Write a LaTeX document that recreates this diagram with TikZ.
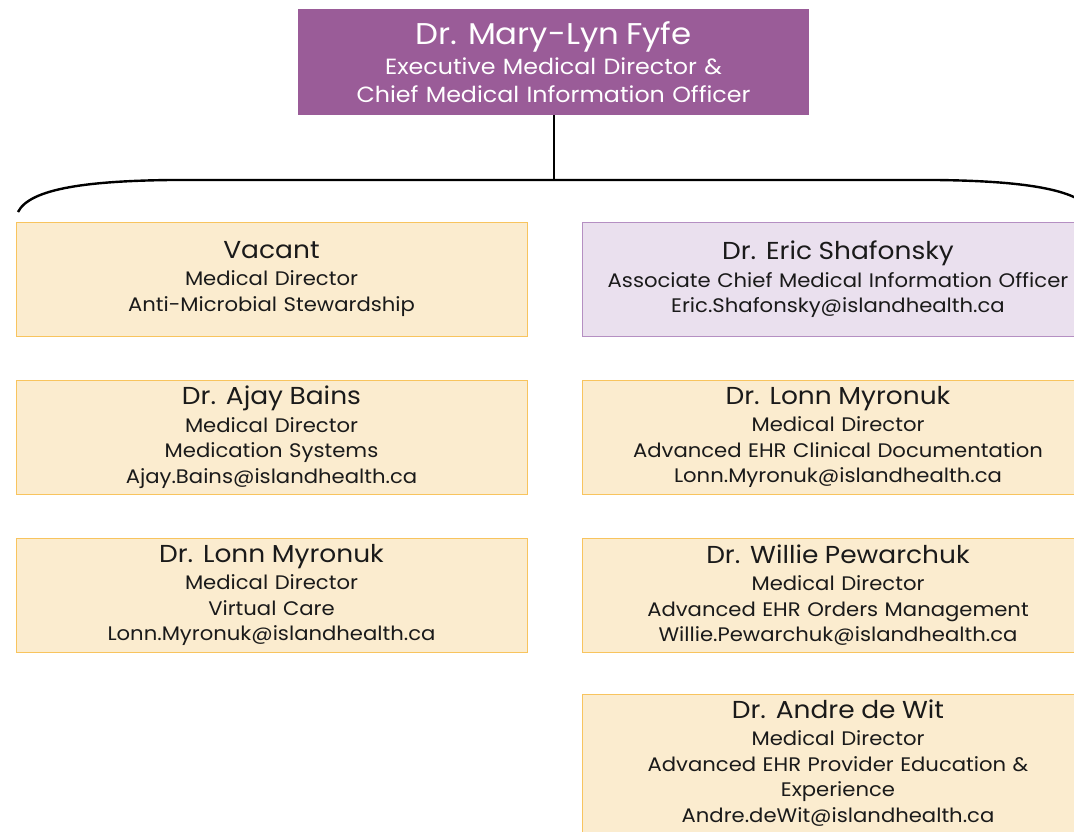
\documentclass[tikz,border=0pt]{standalone}
\usepackage{fontspec}
\setmainfont{Poppins}[FakeStretch=1.08]
\definecolor{topfill}{HTML}{9A5C98}
\definecolor{orfill}{HTML}{FBECCF}
\definecolor{ordraw}{HTML}{F8C45E}
\definecolor{lvfill}{HTML}{EAE0EE}
\definecolor{lvdraw}{HTML}{B58FC2}
\definecolor{txt}{HTML}{1A1A1A}
\newcommand{\bt}[1]{{\fontsize{24.5}{28}\selectfont #1}\\[2pt]}
\tikzset{
  orgbox/.style={draw=ordraw, fill=orfill, line width=0.9pt, minimum width=511pt, minimum height=114pt,
    text width=505pt, align=center, inner sep=0pt, text=txt, font=\fontsize{19.6}{25.5}\selectfont},
  lvbox/.style={orgbox, draw=lvdraw, fill=lvfill},
}
\begin{document}
\begin{tikzpicture}[x=1pt,y=-1pt]
\useasboundingbox (0,0) rectangle (1074,831);
\clip (0,0) rectangle (1074,831);
\node[fill=topfill, minimum width=511pt, minimum height=106pt, text width=505pt, align=center, inner sep=0pt, text=white,
  font=\fontsize{22}{28}\selectfont] (top) at (553.5,62)
  {{\fontsize{30}{34}\selectfont Dr. Mary-Lyn Fyfe}\\[2pt] Executive Medical Director \&\\ Chief Medical Information Officer};
\coordinate (hub) at (553.5,180);
\coordinate (bl) at (18,212);
\coordinate (br) at (1092,212);
\draw[line width=2pt] (top.south) -- (hub);
\draw[line width=2.4pt] (bl) .. controls (30,188) and (90,181) .. (170,180) -- (hub) -- (937,180) .. controls (1017,181) and (1080,188) .. (br);
\node[orgbox] (l1) at (271.5,279) {\bt{Vacant} Medical Director\\ Anti-Microbial Stewardship};
\node[orgbox] (l2) at (271.5,437) {\bt{Dr. Ajay Bains} Medical Director\\ Medication Systems\\ Ajay.Bains@islandhealth.ca};
\node[orgbox] (l3) at (271.5,595) {\bt{Dr. Lonn Myronuk} Medical Director\\ Virtual Care\\ Lonn.Myronuk@islandhealth.ca};
\node[lvbox] (r1) at (838,279.5) {\bt{Dr. Eric Shafonsky} Associate Chief Medical Information Officer\\ Eric.Shafonsky@islandhealth.ca};
\node[orgbox] (r2) at (838,437) {\bt{Dr. Lonn Myronuk} Medical Director\\ Advanced EHR Clinical Documentation\\ Lonn.Myronuk@islandhealth.ca};
\node[orgbox] (r3) at (838,595) {\bt{Dr. Willie Pewarchuk} Medical Director\\ Advanced EHR Orders Management\\ Willie.Pewarchuk@islandhealth.ca};
\node[orgbox, minimum height=138pt, yshift=2pt] (r4) at (838,765) {\bt{Dr. Andre de Wit} Medical Director\\ Advanced EHR Provider Education \&\\ Experience\\ Andre.deWit@islandhealth.ca};
\end{tikzpicture}
\end{document}
